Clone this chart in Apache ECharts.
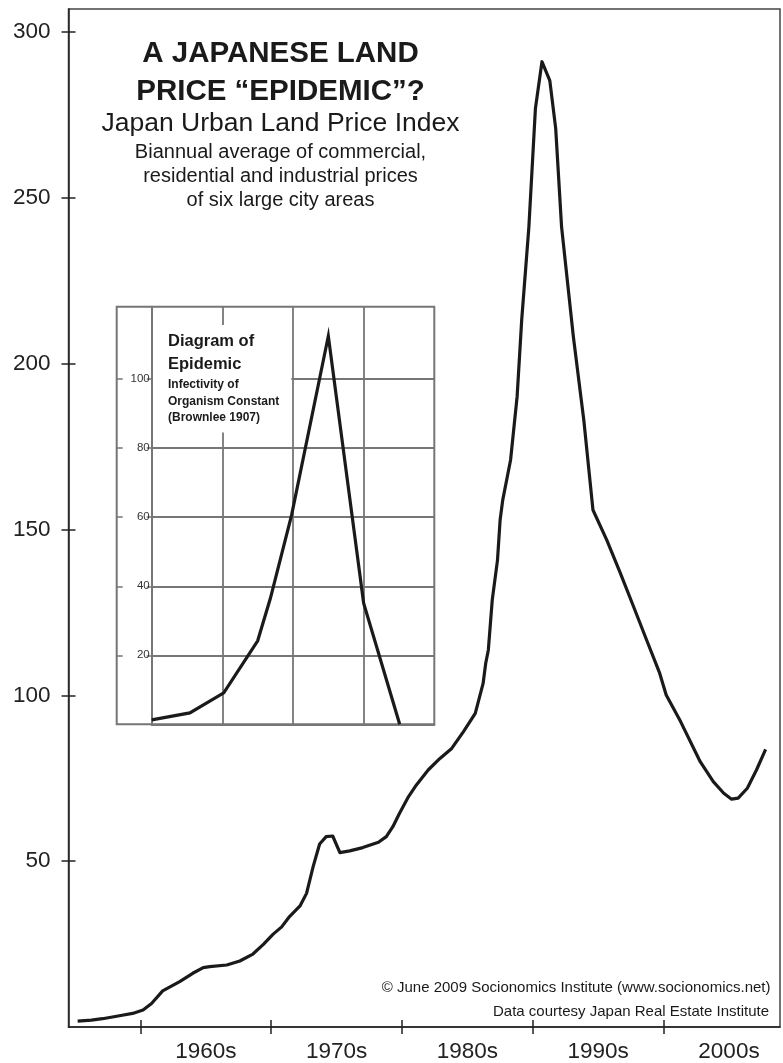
<!DOCTYPE html>
<html>
<head>
<meta charset="utf-8">
<script src="https://cdn.jsdelivr.net/npm/echarts@6/dist/echarts.min.js"></script>
<style>
html,body{margin:0;padding:0;background:#fff;}
#chart{width:783px;height:1063px;}
</style>
</head>
<body>
<div id="chart"></div>
<script>
// Main series: Japan Urban Land Price Index
const mainYears = [1955.2,1956.25,1957.1,1958.4,1959.4,1960.2,1960.85,1961.7,1963.0,1964.0,1964.8,1965.3,1966.6,1967.6,1968.6,1969.4,1970.15,1970.8,1971.4,1972.2,1972.7,1973.2,1973.7,1974.2,1974.7,1975.25,1976.0,1977.0,1978.2,1978.8,1979.3,1979.8,1980.5,1981.1,1982.0,1982.9,1983.8,1984.7,1985.6,1985.8,1986.2,1986.4,1986.6,1986.9,1987.3,1987.5,1987.7,1988.3,1988.8,1989.15,1989.7,1990.2,1990.7,1991.3,1991.75,1992.2,1993.1,1993.9,1994.6,1995.65,1996.7,1997.7,1998.7,1999.7,2000.2,2001.3,2002.8,2003.8,2004.6,2005.2,2005.7,2006.4,2007.1,2007.8];
const mainValues = [1.8,2.1,2.5,3.4,4.1,5.1,7.1,10.9,13.7,16.2,17.9,18.2,18.7,19.9,22.0,24.9,28.0,30.2,33.3,36.5,40.3,48.3,55.2,57.4,57.6,52.6,53.1,54.1,55.7,57.4,60.4,64.4,69.5,73.0,77.5,81.0,84.0,89.1,94.6,97.6,103.6,109.7,113.7,128.8,140.8,152.9,158.9,171.0,190.1,213.2,241.3,277.0,291.1,285.4,271.0,241.3,208.2,183.0,155.9,146.9,136.8,126.8,116.7,106.7,100.1,92.1,80.0,74.0,70.5,68.7,69.0,72.0,77.5,83.7];
const decadeTicks = [1960,1970,1980,1990,2000];
const decadeLabelPos = [1965,1975,1985,1995,2005];
const yTicks = [50,100,150,200,250,300];

// Inset: Diagram of Epidemic (Brownlee 1907)
const insetX = [0,0.54,1.02,1.5,1.68,1.98,2.5,3.0,3.51];
const insetY = [1.3,3.3,9.1,24.2,36.5,60.6,112.5,35.1,0];
const insetYTicks = [20,40,60,80,100];
const insetXTicks = [1,2,3];

const FONT = '"Liberation Sans", Arial, Helvetica, sans-serif';
const INK = '#1a1a1a';
const GRIDC = '#767676';

const chart = echarts.init(document.getElementById('chart'), null, {renderer:'canvas'});

const mainData = mainYears.map((y,i)=>[y, mainValues[i]]);
const insetData = insetX.map((x,i)=>[x, insetY[i]]);

const XMIN = 1954.5, XMAX = 2008.9, YMIN = 0, YMAX = 307;
const IYMAX = 121;

const option = {
  backgroundColor:'#fff',
  animation:false,
  textStyle:{fontFamily:FONT},
  title:[{
    text:'Diagram of\nEpidemic',
    subtext:'Infectivity of\nOrganism Constant\n(Brownlee 1907)',
    left:153, top:325,
    padding:[5,12,6,15],
    itemGap:0,
    backgroundColor:'#fff',
    textStyle:{fontFamily:FONT,fontSize:16.5,fontWeight:'bold',color:INK,lineHeight:23},
    subtextStyle:{fontFamily:FONT,fontSize:12,fontWeight:'bold',color:INK,lineHeight:16.8},
    z:10
  }],
  grid:[
    {left:68.5, right:3, top:9, bottom:35.3, show:true, borderColor:'#444', borderWidth:1.5},
    {left:151.7, top:306.7, width:282.6, height:417.6, show:false},
    {left:116.7, top:306.7, width:317.6, height:417.6, show:true, borderColor:GRIDC, borderWidth:2, backgroundColor:'#fff'}
  ],
  xAxis:[
    {type:'value', gridIndex:0, min:XMIN, max:XMAX,
      axisLine:{show:true,lineStyle:{color:'#222',width:1.5}},
      axisTick:{show:true,inside:false,length:7,customValues:decadeTicks,lineStyle:{color:'#222',width:1.5}},
      axisLabel:{show:true,customValues:decadeLabelPos,margin:13,fontSize:22.5,color:'#222',fontFamily:FONT,
        formatter:v=>(Math.round(v)-5)+'s'},
      splitLine:{show:false}},
    {type:'value', gridIndex:0, min:XMIN, max:XMAX, position:'bottom',
      axisLine:{show:false},
      axisTick:{show:true,inside:true,length:7,customValues:decadeTicks,lineStyle:{color:'#222',width:1.5}},
      axisLabel:{show:false}, splitLine:{show:false}},
    {type:'value', gridIndex:1, min:0, max:4, interval:1,
      axisLine:{show:true,lineStyle:{color:GRIDC,width:2}},
      axisTick:{show:false}, axisLabel:{show:false},
      splitLine:{show:true,customValues:insetXTicks,showMinLine:false,showMaxLine:false,lineStyle:{color:GRIDC,width:1.8}}},
    {type:'value', gridIndex:2, min:0, max:4, show:false}
  ],
  yAxis:[
    {type:'value', gridIndex:0, min:YMIN, max:YMAX,
      axisLine:{show:true,lineStyle:{color:'#222',width:1.5}},
      axisTick:{show:true,inside:false,length:7,customValues:yTicks,lineStyle:{color:'#222',width:1.5}},
      axisLabel:{show:true,customValues:yTicks,margin:18,fontSize:22.5,color:'#222',fontFamily:FONT},
      splitLine:{show:false}},
    {type:'value', gridIndex:0, min:YMIN, max:YMAX, position:'left',
      axisLine:{show:false},
      axisTick:{show:true,inside:true,length:7,customValues:yTicks,lineStyle:{color:'#222',width:1.5}},
      axisLabel:{show:false}, splitLine:{show:false}},
    {type:'value', gridIndex:1, min:0, max:IYMAX,
      axisLine:{show:true,lineStyle:{color:GRIDC,width:2}},
      axisTick:{show:true,inside:false,length:5,customValues:insetYTicks,lineStyle:{color:GRIDC,width:1.5}},
      axisLabel:{show:true,customValues:insetYTicks,margin:2,fontSize:11.5,color:'#333',fontFamily:FONT},
      splitLine:{show:true,customValues:insetYTicks,lineStyle:{color:GRIDC,width:1.8}}},
    {type:'value', gridIndex:2, min:0, max:IYMAX,
      axisLine:{show:false},
      axisTick:{show:true,inside:true,length:6,customValues:insetYTicks,lineStyle:{color:GRIDC,width:1.5}},
      axisLabel:{show:false}, splitLine:{show:false}}
  ],
  series:[
    {type:'line', xAxisIndex:0, yAxisIndex:0, data:mainData, showSymbol:false,
      lineStyle:{color:INK,width:3.2,join:'round'}, z:3},
    {type:'line', xAxisIndex:2, yAxisIndex:2, data:insetData, showSymbol:false,
      lineStyle:{color:INK,width:3.2,join:'miter'}, z:5}
  ],
  graphic:[
    {type:'text', x:280.5, y:54, z:20, style:{text:'A JAPANESE LAND', fontFamily:FONT, fontSize:29.5, fontWeight:'bold', fill:INK, align:'center', verticalAlign:'middle'}},
    {type:'text', x:280.5, y:91.5, z:20, style:{text:'PRICE \u201CEPIDEMIC\u201D?', fontFamily:FONT, fontSize:29.5, fontWeight:'bold', fill:INK, align:'center', verticalAlign:'middle'}},
    {type:'text', x:280.5, y:124, z:20, style:{text:'Japan Urban Land Price Index', fontFamily:FONT, fontSize:26.5, fill:INK, align:'center', verticalAlign:'middle'}},
    {type:'text', x:280.5, y:152, z:20, style:{text:'Biannual average of commercial,', fontFamily:FONT, fontSize:20, fill:INK, align:'center', verticalAlign:'middle'}},
    {type:'text', x:280.5, y:176.5, z:20, style:{text:'residential and industrial prices', fontFamily:FONT, fontSize:20, fill:INK, align:'center', verticalAlign:'middle'}},
    {type:'text', x:280.5, y:200, z:20, style:{text:'of six large city areas', fontFamily:FONT, fontSize:20, fill:INK, align:'center', verticalAlign:'middle'}},
    {type:'text', x:770.5, y:988, z:20, style:{text:'\u00A9 June 2009 Socionomics Institute (www.socionomics.net)', fontFamily:FONT, fontSize:15, fill:INK, align:'right', verticalAlign:'middle'}},
    {type:'text', x:769, y:1011.7, z:20, style:{text:'Data courtesy Japan Real Estate Institute', fontFamily:FONT, fontSize:15, fill:INK, align:'right', verticalAlign:'middle'}}
  ]
};
chart.setOption(option);
</script>
</body>
</html>
